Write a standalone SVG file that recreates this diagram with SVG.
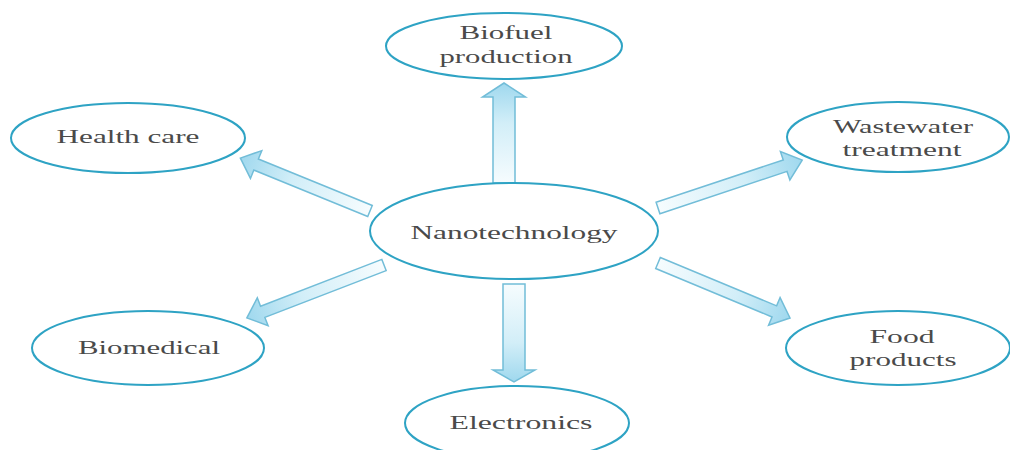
<svg xmlns="http://www.w3.org/2000/svg" width="1010" height="450" viewBox="0 0 1010 450">
<defs>
<linearGradient id="ag" x1="0" y1="0" x2="1" y2="0">
<stop offset="0" stop-color="#f6fcfe"/>
<stop offset="0.6" stop-color="#d2eef8"/>
<stop offset="1" stop-color="#9fd8ee"/>
</linearGradient>
<style>
.node ellipse{fill:#fff;stroke:#2ea3c4;stroke-width:2}
.node text{font-family:"Liberation Serif","Times New Roman",serif;font-size:18px;fill:#4a4a4a;text-anchor:middle}
.arr{fill:url(#ag);stroke:#72bdd8;stroke-width:1.5;stroke-linejoin:miter}
</style>
</defs>
<rect width="1010" height="450" fill="#fff"/>
<g id="connectors">
<polygon class="arr" transform="translate(504,183) rotate(-90)" points="0,-11 86,-11 86,-21.5 100,0 86,21.5 86,11 0,11"/>
<polygon class="arr" transform="translate(514,284) rotate(90)" points="0,-11 86,-11 86,-21 98,0 86,21 86,11 0,11"/>
<polygon class="arr" transform="translate(370,211) rotate(-157.8)" points="0,-6 123,-6 123,-15 140,0 123,15 123,6 0,6"/>
<polygon class="arr" transform="translate(658,208) rotate(-18.4)" points="0,-6 134,-6 134,-15 152,0 134,15 134,6 0,6"/>
<polygon class="arr" transform="translate(384,265) rotate(158.9)" points="0,-6 130,-6 130,-15 147,0 130,15 130,6 0,6"/>
<polygon class="arr" transform="translate(658,263) rotate(22.6)" points="0,-6 126,-6 126,-15 143,0 126,15 126,6 0,6"/>
</g>
<g id="nanotechnology" class="node">
<ellipse cx="514" cy="231" rx="144" ry="48"/>
<text x="514" y="239" textLength="207" lengthAdjust="spacingAndGlyphs">Nanotechnology</text>
</g>
<g id="biofuel" class="node">
<ellipse cx="504" cy="46" rx="118" ry="33"/>
<text x="506" y="39" textLength="93" lengthAdjust="spacingAndGlyphs">Biofuel</text>
<text x="506" y="63" textLength="133" lengthAdjust="spacingAndGlyphs">production</text>
</g>
<g id="healthcare" class="node">
<ellipse cx="128" cy="138" rx="117" ry="35"/>
<text x="128" y="143" textLength="143" lengthAdjust="spacingAndGlyphs">Health care</text>
</g>
<g id="wastewater" class="node">
<ellipse cx="898" cy="137" rx="111" ry="35"/>
<text x="903" y="133" textLength="140" lengthAdjust="spacingAndGlyphs">Wastewater</text>
<text x="902" y="156" textLength="119" lengthAdjust="spacingAndGlyphs">treatment</text>
</g>
<g id="biomedical" class="node">
<ellipse cx="148" cy="348" rx="116" ry="37"/>
<text x="149" y="354" textLength="142" lengthAdjust="spacingAndGlyphs">Biomedical</text>
</g>
<g id="food" class="node">
<ellipse cx="898" cy="348" rx="112" ry="37"/>
<text x="902" y="343" textLength="65" lengthAdjust="spacingAndGlyphs">Food</text>
<text x="903" y="366" textLength="107" lengthAdjust="spacingAndGlyphs">products</text>
</g>
<g id="electronics" class="node">
<ellipse cx="517" cy="423" rx="112" ry="37"/>
<text x="521" y="429" textLength="143" lengthAdjust="spacingAndGlyphs">Electronics</text>
</g>
</svg>
